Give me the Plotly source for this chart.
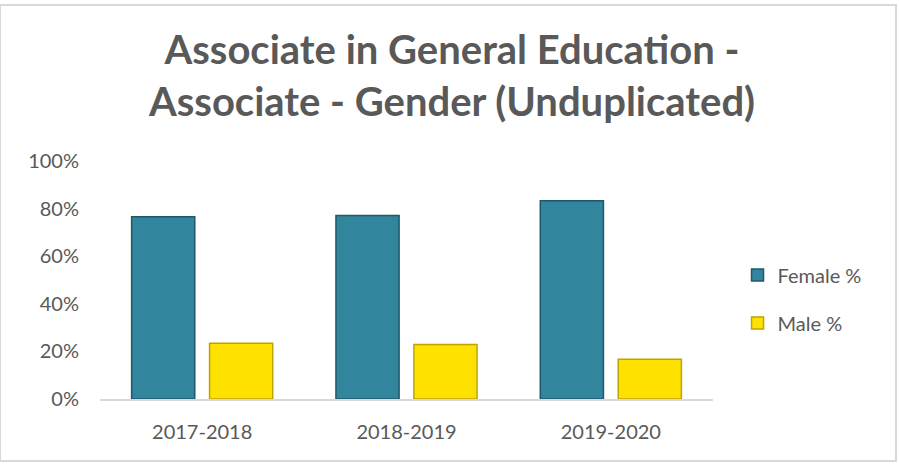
import plotly.graph_objects as go

# School years and the gender split of associate completers
years = ["2017-2018", "2018-2019", "2019-2020"]
female_pct = [0.766, 0.771, 0.833]
male_pct = [0.234, 0.229, 0.167]
y_ticks = [0, 0.2, 0.4, 0.6, 0.8, 1.0]
y_tick_labels = ["0%", "20%", "40%", "60%", "80%", "100%"]

TEXT = "#595959"
FONT = "Lato, 'Open Sans', sans-serif"

fig = go.Figure()
fig.add_trace(go.Bar(
    name="Female %", x=years, y=female_pct,
    marker=dict(color="#31859C", line=dict(color="#205868", width=1.5)),
    legendgroup="f",
))
fig.add_trace(go.Bar(
    name="Male %", x=years, y=male_pct,
    marker=dict(color="#FFE100", line=dict(color="#BFA300", width=1.5)),
    legendgroup="m",
))

fig.update_layout(
    width=899, height=464,
    paper_bgcolor="white", plot_bgcolor="white",
    margin=dict(l=100, r=186, t=161, b=65),
    barmode="group", bargap=0.237, bargroupgap=0.19,
    font=dict(family=FONT, color=TEXT, size=20),
    title=dict(
        text="Associate in General Education -<br>Associate - Gender (Unduplicated)",
        x=452 / 899, xanchor="center", xref="container",
        y=1 - 64 / 464, yanchor="top", yref="container",
        font=dict(family=FONT, size=40, color=TEXT, weight="bold"),
    ),
    showlegend=True,
    legend=dict(
        x=1.04, xanchor="left", y=0.42, yanchor="middle",
        traceorder="grouped", tracegroupgap=19,
        font=dict(size=20, color=TEXT),
        itemwidth=30,
    ),
    shapes=[dict(
        type="rect", xref="paper", yref="paper",
        x0=-100 / 613, x1=1 + 183 / 613, y0=-62 / 238, y1=1 + 156 / 238,
        line=dict(color="#D9D9D9", width=2), fillcolor="rgba(0,0,0,0)",
        layer="below",
    )],
)
fig.update_xaxes(
    showline=True, linecolor="#D9D9D9", linewidth=1.5,
    showgrid=False, ticks="", ticklabelstandoff=14,
    tickfont=dict(size=20, color=TEXT),
)
fig.update_yaxes(
    range=[0, 1], tickvals=y_ticks, ticktext=y_tick_labels,
    showline=False, showgrid=False, zeroline=False, ticks="",
    ticklabelstandoff=20, tickfont=dict(size=20, color=TEXT),
)

fig.write_html("out.html")
